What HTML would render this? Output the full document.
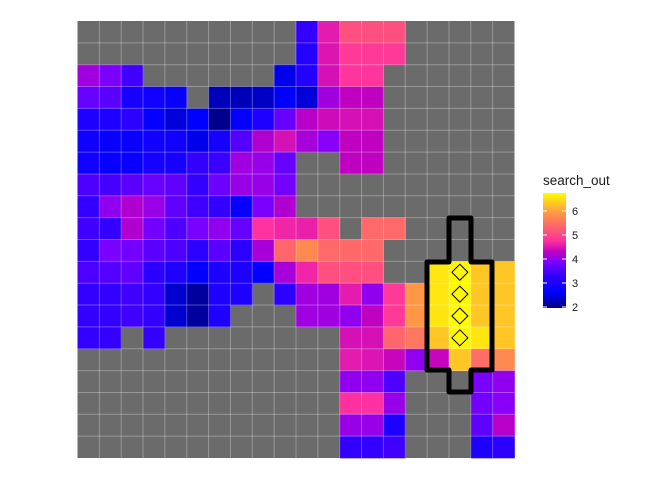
<!DOCTYPE html>
<html><head><meta charset="utf-8">
<style>
body{margin:0;background:#fff;}
svg{display:block;font-family:"Liberation Sans",Arial,sans-serif;}
</style></head>
<body>
<svg id="chart" width="672" height="480" viewBox="0 0 672 480">
  <rect x="77.5" y="21" width="437" height="437" fill="#6b6b6b"/>
  <g id="tiles"></g>
  <g id="grid"></g>
  <g id="overlay"></g>
  <g id="legend">
    <text x="543" y="185" font-size="13.5" fill="#1a1a1a">search_out</text>
    <defs><linearGradient id="lg" x1="0" y1="1" x2="0" y2="0"></linearGradient></defs>
    <rect x="543" y="193" width="23" height="115" fill="url(#lg)"/>
    <g id="legticks"></g>
  </g>
</svg>
<script>
const NA = null;
const nRows = 20, nCols = 20;
const row0  = [NA,NA,NA,NA,NA,NA,NA,NA,NA,NA,3.3,4.55,5.1,5.1,5.1,NA,NA,NA,NA,NA];
const row1  = [NA,NA,NA,NA,NA,NA,NA,NA,NA,NA,3.1,4.5,4.85,4.85,4.85,NA,NA,NA,NA,NA];
const row2  = [4.1,3.85,3.4,NA,NA,NA,NA,NA,NA,2.5,3.1,4.45,4.8,4.8,NA,NA,NA,NA,NA,NA];
const row3  = [3.7,3.6,2.9,2.8,2.7,NA,2.25,2.25,2.3,2.6,2.4,4.1,4.3,4.3,NA,NA,NA,NA,NA,NA];
const row4  = [3.0,3.0,3.2,2.65,2.4,2.6,2.0,2.65,3.0,3.7,4.25,4.4,4.45,4.45,NA,NA,NA,NA,NA,NA];
const row5  = [2.8,2.7,2.7,2.8,2.8,2.5,2.9,3.55,4.2,4.45,4.15,3.95,4.3,4.3,NA,NA,NA,NA,NA,NA];
const row6  = [2.8,2.7,2.7,2.9,2.9,3.3,3.35,4.1,4.05,3.7,NA,NA,4.3,4.3,NA,NA,NA,NA,NA,NA];
const row7  = [3.5,3.45,3.6,3.7,3.65,3.3,3.75,4.05,4.05,3.8,NA,NA,NA,NA,NA,NA,NA,NA,NA,NA];
const row8  = [3.3,4.0,4.2,4.05,3.65,3.4,3.3,2.7,3.85,4.2,NA,NA,NA,NA,NA,NA,NA,NA,NA,NA];
const row9  = [3.4,3.3,4.2,3.8,3.5,3.85,4.0,3.7,4.75,4.65,4.6,5.1,NA,5.4,5.4,NA,NA,NA,NA,NA];
const row10 = [3.3,3.85,3.8,3.6,3.5,3.2,3.6,3.2,4.15,5.35,5.75,5.4,5.4,5.4,NA,NA,NA,NA,NA,NA];
const row11 = [3.5,3.55,3.65,3.2,3.0,2.65,3.0,3.0,2.65,4.15,4.65,5.1,5.1,5.1,NA,NA,6.55,6.7,6.3,6.3];
const row12 = [3.3,3.3,3.4,3.3,2.35,2.1,3.0,3.0,NA,3.2,4.1,4.1,4.55,4.0,4.85,5.9,6.55,6.7,6.3,6.3];
const row13 = [3.3,3.3,3.4,3.3,2.35,2.1,3.0,NA,NA,NA,4.1,4.1,4.0,4.3,4.85,5.9,6.55,6.7,6.3,6.3];
const row14 = [3.3,3.3,NA,3.3,NA,NA,NA,NA,NA,NA,NA,NA,4.45,4.45,5.35,5.55,6.3,6.7,6.55,6.3];
const row15 = [NA,NA,NA,NA,NA,NA,NA,NA,NA,NA,NA,NA,4.55,4.5,4.35,4.0,4.35,6.3,5.45,5.75];
const row16 = [NA,NA,NA,NA,NA,NA,NA,NA,NA,NA,NA,NA,4.0,4.0,3.5,NA,NA,NA,3.85,4.0];
const row17 = [NA,NA,NA,NA,NA,NA,NA,NA,NA,NA,NA,NA,4.75,4.75,4.05,NA,NA,NA,3.8,3.95];
const row18 = [NA,NA,NA,NA,NA,NA,NA,NA,NA,NA,NA,NA,4.05,4.05,3.0,NA,NA,NA,3.65,4.25];
const row19 = [NA,NA,NA,NA,NA,NA,NA,NA,NA,NA,NA,NA,3.3,3.3,3.4,NA,NA,NA,3.0,3.2];
const values = [row0,row1,row2,row3,row4,row5,row6,row7,row8,row9,row10,row11,row12,row13,row14,row15,row16,row17,row18,row19];
const legendTicks = [2,3,4,5,6];
const markerCol = 17;
const markerRows = [11,12,13,14];

const NS = "http://www.w3.org/2000/svg";
const X0 = 77.5, Y0 = 21, W = 437, H = 437;
const cw = W / nCols, ch = H / nRows;
const xPos = c => X0 + c * cw;
const yPos = r => Y0 + r * ch;

const stops = [[1.95,[0,0,128]],[2.6,[0,0,255]],[3.3,[51,0,255]],[3.9,[128,0,255]],[4.3,[192,0,192]],[4.75,[255,48,160]],[5.3,[255,96,112]],[6.0,[255,160,64]],[6.75,[255,255,0]]];
function color(v){
  if (v <= stops[0][0]) return 'rgb('+stops[0][1]+')';
  for (let i=1;i<stops.length;i++){
    if (v <= stops[i][0]){
      const [a,ca]=stops[i-1],[b,cb]=stops[i];const t=(v-a)/(b-a);
      return 'rgb('+ca.map((x,k)=>Math.round(x+(cb[k]-x)*t)).join(',')+')';
    }
  }
  return 'rgb('+stops[stops.length-1][1]+')';
}
const tiles = document.getElementById('tiles');
values.forEach((row,r)=>row.forEach((v,c)=>{
  if (v===null) return;
  const el=document.createElementNS(NS,'rect');
  el.setAttribute('x',xPos(c));el.setAttribute('y',yPos(r));
  el.setAttribute('width',cw+0.3);el.setAttribute('height',ch+0.3);
  el.setAttribute('fill',color(v));
  
  
  tiles.appendChild(el);
}));
const grid=document.getElementById('grid');
for (let i=1;i<nCols;i++){
  const l=document.createElementNS(NS,'line');
  l.setAttribute('x1',xPos(i));l.setAttribute('x2',xPos(i));l.setAttribute('y1',Y0);l.setAttribute('y2',Y0+H);
  l.setAttribute('stroke','rgba(255,255,255,0.3)');l.setAttribute('stroke-width','1');
  
  
  grid.appendChild(l);
}
for (let i=1;i<nRows;i++){
  const l=document.createElementNS(NS,'line');
  l.setAttribute('y1',yPos(i));l.setAttribute('y2',yPos(i));l.setAttribute('x1',X0);l.setAttribute('x2',X0+W);
  l.setAttribute('stroke','rgba(255,255,255,0.3)');l.setAttribute('stroke-width','1');
  
  
  grid.appendChild(l);
}
const ov=document.getElementById('overlay');
const p=document.createElementNS(NS,'path');
p.setAttribute('d','M449,218 L471,218 L471,262 L492,262 L492,370 L471,370 L471,392 L449,392 L449,370 L427,370 L427,262 L449,262 Z');
p.setAttribute('fill','none');p.setAttribute('stroke','#000');p.setAttribute('stroke-width','5');p.setAttribute('stroke-linejoin','round');


ov.appendChild(p);
markerRows.forEach(r=>{
  const cx=xPos(markerCol)+cw/2, cy=yPos(r)+ch/2, s=8;
  const d=document.createElementNS(NS,'path');
  d.setAttribute('d',`M${cx},${cy-s} L${cx+s},${cy} L${cx},${cy+s} L${cx-s},${cy} Z`);
  d.setAttribute('fill','none');d.setAttribute('stroke','#000');d.setAttribute('stroke-width','1');
  
  
  ov.appendChild(d);
});
const lg=document.getElementById('lg');
stops.forEach(([v,c])=>{
  const s=document.createElementNS(NS,'stop');
  s.setAttribute('offset',(v-1.95)/(6.75-1.95));s.setAttribute('stop-color','rgb('+c+')');
  lg.appendChild(s);
});
const lt=document.getElementById('legticks');
const ly = v => 307 - (v-2)*24;
legendTicks.forEach(v=>{
  [[543,547],[562,566]].forEach(([a,b])=>{
    const l=document.createElementNS(NS,'line');
    l.setAttribute('x1',a);l.setAttribute('x2',b);l.setAttribute('y1',ly(v));l.setAttribute('y2',ly(v));
    l.setAttribute('stroke','#fff');l.setAttribute('stroke-width','1');
    
    
    lt.appendChild(l);
  });
  const t=document.createElementNS(NS,'text');
  t.setAttribute('x',572);t.setAttribute('y',ly(v)+4);t.setAttribute('font-size','11');t.setAttribute('fill','#1a1a1a');
  t.textContent=v;
  
  
  lt.appendChild(t);
});
</script>
</body></html>
